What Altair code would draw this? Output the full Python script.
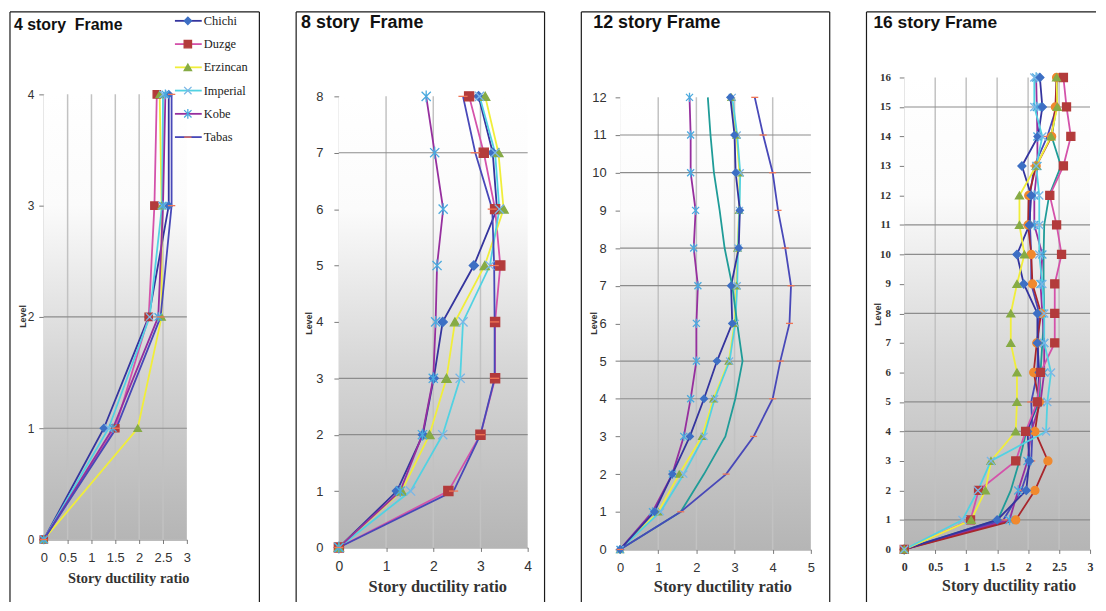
import altair as alt
import pandas as pd

# ---------------- data ----------------
SERIES = ["Chichi", "Duzge", "Erzincan", "Imperial", "Kobe", "Tabas", "Series 7", "Series 8"]
LEGEND_NAMES = ["Chichi", "Duzge", "Erzincan", "Imperial", "Kobe", "Tabas"]
LINE_COLORS = ["#34349e", "#d452aa", "#f0ee3a", "#52d2e2", "#962f9e", "#4848b8", "#a8262c", "#1f9c98"]
MARKER_COLORS = ["#3d6fc4", "#b33b3b", "#86ab45", "#7ab6e6", "#4aaade", "#f07656", "#f0892e", "#1f9c98"]
MARKER_SHAPES = ["diamond", "square", "triangle-up",
                 "M-1,-1L1,1M-1,1L1,-1",
                 "M-1,-1L1,1M-1,1L1,-1M0,-1.3L0,1.3",
                 "M-1,0L1,0", "circle", "circle"]

P1_TITLE = "4 story\u00a0 Frame"
P1_DATA = {
    "Chichi":   [0, 1.26, 2.20, 2.62, 2.62],
    "Duzge":    [0, 1.50, 2.20, 2.32, 2.37],
    "Erzincan": [0, 1.97, 2.47, 2.47, 2.43],
    "Imperial": [0, 1.36, 2.22, 2.48, 2.50],
    "Kobe":     [0, 1.45, 2.40, 2.50, 2.55],
    "Tabas":    [0, 1.52, 2.45, 2.68, 2.68],
}
P1_XTICKS = [0, 0.5, 1, 1.5, 2, 2.5, 3]
P1_VGRID = [0.5, 1, 1.5, 2, 2.5]
P1_HGRID = [1, 2]

P2_TITLE = "8 story\u00a0 Frame"
P2_DATA = {
    "Chichi":   [0, 1.23, 1.78, 2.01, 2.20, 2.86, 3.35, 3.26, 2.96],
    "Duzge":    [0, 2.32, 3.00, 3.31, 3.31, 3.42, 3.31, 3.07, 2.76],
    "Erzincan": [0, 1.33, 1.92, 2.28, 2.46, 3.09, 3.49, 3.38, 3.10],
    "Imperial": [0, 1.52, 2.20, 2.57, 2.63, 3.20, 3.40, 3.31, 2.98],
    "Kobe":     [0, 1.30, 1.77, 2.00, 2.05, 2.08, 2.21, 2.03, 1.85],
    "Tabas":    [0, 2.43, 3.00, 3.30, 3.30, 3.29, 3.25, 2.89, 2.63],
}
P2_XTICKS = [0, 1, 2, 3, 4]
P2_VGRID = [1, 2, 3]
P2_HGRID = [2, 3, 7]

P3_TITLE = "12 story Frame"
P3_DATA = {
    "Erzincan": [0, 1.00, 1.55, 2.15, 2.45, 2.85, 3.00, 3.05, 3.08, 3.12, 3.13, 3.05, 2.92],
    "Imperial": [0, 1.06, 1.67, 2.20, 2.48, 2.87, 3.02, 3.07, 3.09, 3.13, 3.15, 3.07, 2.94],
    "Kobe":     [0, 0.85, 1.37, 1.67, 1.85, 2.00, 2.00, 2.04, 1.93, 1.98, 1.85, 1.85, 1.82],
    "Chichi":   [0, 0.90, 1.37, 1.83, 2.20, 2.54, 2.94, 2.91, 3.11, 3.14, 3.03, 3.00, 2.89],
    "Series 8": [0, 1.59, 2.20, 2.76, 3.02, 3.21, 3.07, 2.94, 2.74, 2.61, 2.46, 2.37, 2.30],
    "Tabas":    [0, 1.59, 2.78, 3.50, 4.00, 4.20, 4.44, 4.48, 4.33, 4.14, 4.00, 3.75, 3.53],
}
P3_XTICKS = [0, 1, 2, 3, 4, 5]
P3_VGRID = [1, 2, 3, 4]
P3_HGRID = [4, 5, 7, 8, 10, 11]

P4_TITLE = "16 story Frame"
P4_DATA = {
    "Series 8": [0, 1.51, 1.72, 1.86, 1.97, 2.18, 2.20, 2.23, 2.26, 2.25, 2.25, 2.26, 2.34, 2.53, 2.38, 2.46, 2.46],
    "Tabas":    [0, 1.60, 1.89, 2.05, 2.07, 2.05, 2.15, 2.16, 2.18, 2.05, 2.05, 2.03, 2.03, 2.10, 2.31, 2.46, 2.46],
    "Kobe":     [0, 1.70, 1.84, 1.99, 2.05, 2.20, 2.26, 2.26, 2.23, 2.20, 2.23, 2.10, 2.10, 2.15, 2.15, 2.14, 2.13],
    "Series 7": [0, 1.80, 2.11, 2.32, 2.11, 2.18, 2.09, 2.14, 2.21, 2.07, 2.05, 2.00, 2.01, 2.13, 2.38, 2.44, 2.46],
    "Chichi":   [0, 1.50, 1.97, 2.02, 1.99, 2.15, 2.18, 2.15, 2.15, 1.93, 1.82, 2.02, 2.05, 1.90, 2.16, 2.23, 2.19],
    "Duzge":    [0, 1.07, 1.20, 1.80, 1.96, 2.15, 2.20, 2.43, 2.43, 2.43, 2.54, 2.46, 2.35, 2.57, 2.69, 2.62, 2.57],
    "Erzincan": [0, 1.08, 1.31, 1.40, 1.80, 1.82, 1.82, 1.72, 1.72, 1.82, 1.94, 1.86, 1.86, 2.13, 2.37, 2.47, 2.46],
    "Imperial": [0, 0.94, 1.19, 1.40, 2.29, 2.31, 2.37, 2.26, 2.26, 2.23, 2.18, 2.18, 2.18, 2.13, 2.23, 2.10, 2.10],
}
P4_XTICKS = [0, 0.5, 1, 1.5, 2, 2.5, 3]
P4_VGRID = [0.5, 1, 1.5, 2, 2.5]
P4_HGRID = [1, 4, 5, 8, 10, 11, 15]

X_TITLE = "Story ductility ratio"
Y_TITLE = "Level"


def long_df(data):
    rows = []
    for s, vals in data.items():
        for lvl, v in enumerate(vals):
            rows.append({"series": s, "level": lvl, "ratio": v})
    return pd.DataFrame(rows)


STROKE = alt.Stroke("series:N", scale=alt.Scale(domain=SERIES, range=LINE_COLORS), legend=None)
MCOLOR = alt.Color("series:N", scale=alt.Scale(domain=SERIES, range=MARKER_COLORS), legend=None)
MFILL = alt.Fill("series:N", scale=alt.Scale(domain=SERIES, range=MARKER_COLORS), legend=None)
MSHAPE = alt.Shape("series:N", scale=alt.Scale(domain=SERIES, range=MARKER_SHAPES), legend=None)

GRAD = alt.Gradient(
    gradient="linear", x1=0, x2=0, y1=0, y2=1,
    stops=[alt.GradientStop(offset=0, color="#ffffff"),
           alt.GradientStop(offset=0.25, color="#fbfbfb"),
           alt.GradientStop(offset=0.6, color="#d6d6d6"),
           alt.GradientStop(offset=1, color="#b5b5b5")])

ONE = pd.DataFrame({"t": ["x"]})

BOX_TOP = -66
BOX_BOTTOM = 528


def panel(title, data, xmax, xticks, vgrid, hgrid, g):
    w, h, top = g["w"], g["h"], g["top"]
    nlev = len(next(iter(data.values()))) - 1
    serif_ticks = g.get("serif", False)
    lab_font = "Liberation Serif" if serif_ticks else "Liberation Sans"
    lab_weight = "bold" if serif_ticks else "normal"
    xaxis = alt.Axis(values=xticks, grid=False, labelExpr="datum.value + ''",
                     domainColor="#7a7a7a", tickColor="#7a7a7a", tickSize=4,
                     labelFont=lab_font, labelFontWeight=lab_weight,
                     labelFontSize=g["xls"], labelColor="#333333", labelPadding=8,
                     labelFlush=False,
                     title=X_TITLE, titleFont="Liberation Serif", titleFontWeight="bold",
                     titleFontSize=g["xts"], titleColor="#333333",
                     titleX=g["xtx"], titleY=g["xty"], titleBaseline="middle", titleAlign="center")
    yaxis = alt.Axis(values=list(range(nlev + 1)), grid=False,
                     domainColor="#7a7a7a", tickColor="#7a7a7a", tickSize=5,
                     labelFont=lab_font, labelFontWeight=lab_weight,
                     labelFontSize=g["yls"], labelColor="#333333", labelPadding=g["ylp"],
                     labelFlush=False,
                     title=Y_TITLE, titleFont="Liberation Sans", titleFontWeight="bold",
                     titleFontSize=9, titleColor="#333333",
                     titleX=g["ytx"], titleY=g["yty"], titleAngle=-90,
                     titleBaseline="middle", titleAlign="center")
    X = alt.X("ratio:Q", scale=alt.Scale(domain=[0, xmax], nice=False, zero=True), axis=xaxis)
    Y = alt.Y("level:Q", scale=alt.Scale(domain=[0, nlev], nice=False, zero=True,
                                         range=[h, top]), axis=yaxis)

    df = long_df(data)
    bg = alt.Chart(ONE).mark_rect(fill=GRAD).encode(
        x=alt.value(0), x2=alt.value(w), y=alt.value(top), y2=alt.value(h))
    vg = alt.Chart(pd.DataFrame({"ratio": vgrid})).mark_rule(color="#c2c2c2", strokeWidth=1.5).encode(
        x=X, y=alt.value(top), y2=alt.value(h))
    hg = alt.Chart(pd.DataFrame({"level": hgrid})).mark_rule(color="#8c8c8c", strokeWidth=1.2).encode(
        y=Y, x=alt.value(0), x2=alt.value(w))
    lines = alt.Chart(df).mark_line(strokeWidth=1.8).encode(
        x=X, y=Y, stroke=STROKE, order=alt.Order("level:Q"))
    pts = alt.Chart(df).transform_filter(alt.datum.series != "Series 8").mark_point(
        filled=False, opacity=1, strokeWidth=1.3, size=g["ms"]).encode(
        x=X, y=Y, color=MCOLOR, fill=MFILL, shape=MSHAPE)
    inner = alt.layer(bg, vg, hg, lines, pts)

    bl, br = g["box"]
    box_l = alt.Chart(ONE).mark_rule(color="#1a1a1a", strokeWidth=1.2).encode(
        x=alt.value(bl), y=alt.value(BOX_TOP), y2=alt.value(BOX_BOTTOM))
    box_t_x2 = br if br is not None else w + 6
    box_t = alt.Chart(ONE).mark_rule(color="#1a1a1a", strokeWidth=1.2).encode(
        x=alt.value(bl), x2=alt.value(box_t_x2), y=alt.value(BOX_TOP))
    ttl = alt.Chart(pd.DataFrame({"t": [title]})).mark_text(
        align="left", baseline="alphabetic", font="Liberation Sans", fontWeight="bold",
        fontSize=g["tfs"], color="#111111").encode(
        text="t:N", x=alt.value(g["tx"]), y=alt.value(g["ty"]))
    layers = [inner, box_l, box_t, ttl]
    if br is not None:
        box_r = alt.Chart(ONE).mark_rule(color="#1a1a1a", strokeWidth=1.2).encode(
            x=alt.value(br), y=alt.value(BOX_TOP), y2=alt.value(BOX_BOTTOM))
        layers.append(box_r)

    if g.get("legend"):
        ldf = pd.DataFrame({"series": LEGEND_NAMES})
        LY = alt.Y("series:N", scale=alt.Scale(type="point", domain=LEGEND_NAMES,
                                                range=[-57, 60], padding=0), axis=None)
        lr = alt.Chart(ldf).mark_rule(strokeWidth=1.8).encode(
            x=alt.value(132), x2=alt.value(159), y=LY, stroke=STROKE)
        lp = alt.Chart(ldf).mark_point(filled=False, opacity=1, strokeWidth=1.3, size=g["ms"]).encode(
            x=alt.value(145), y=LY, color=MCOLOR, fill=MFILL, shape=MSHAPE)
        lt = alt.Chart(ldf).mark_text(align="left", baseline="middle", font="Liberation Serif",
                                      fontSize=12.5, color="#222222").encode(
            x=alt.value(161), y=LY, text="series:N")
        leg = alt.layer(lr, lp, lt)
        return alt.layer(alt.layer(*layers), leg).resolve_scale(y="independent").properties(width=w, height=h)
    return alt.layer(*layers).properties(width=w, height=h)


c1 = panel(P1_TITLE, P1_DATA, 3, P1_XTICKS, P1_VGRID, P1_HGRID,
           dict(w=144, h=465, top=17, box=(-34, 217), tx=-30, ty=-48, tfs=16,
                xls=13, xts=14.5, xtx=85, xty=39, yls=12, ylp=5, ytx=-21, yty=240,
                ms=55, legend=True))
c2 = panel(P2_TITLE, P2_DATA, 4, P2_XTICKS, P2_VGRID, P2_HGRID,
           dict(w=190, h=473, top=19, box=(-43, 207), tx=-38, ty=-50, tfs=18,
                xls=14, xts=16.5, xtx=99, xty=39, yls=13, ylp=11, ytx=-31, yty=247,
                ms=85))
c3 = panel(P3_TITLE, P3_DATA, 5, P3_XTICKS, P3_VGRID, P3_HGRID,
           dict(w=192, h=475, top=20, box=(-39, 211), tx=-27, ty=-50, tfs=18,
                xls=13, xts=16.5, xtx=103, xty=37, yls=13, ylp=9, ytx=-27, yty=247,
                ms=50))
c4 = panel(P4_TITLE, P4_DATA, 3, P4_XTICKS, P4_VGRID, P4_HGRID,
           dict(w=187, h=475, top=0, box=(-38, None), tx=-31, ty=-50, tfs=17.5,
                xls=12, xts=16, xtx=105, xty=36, yls=11, ylp=9, ytx=-27, yty=238,
                ms=65, serif=True))

chart = alt.hconcat(c1, c2, c3, c4, spacing=35).properties(
    padding=1, background="white"
).configure_view(strokeWidth=0)

chart.save("out.html", embed_options={"renderer": "svg", "actions": False})
